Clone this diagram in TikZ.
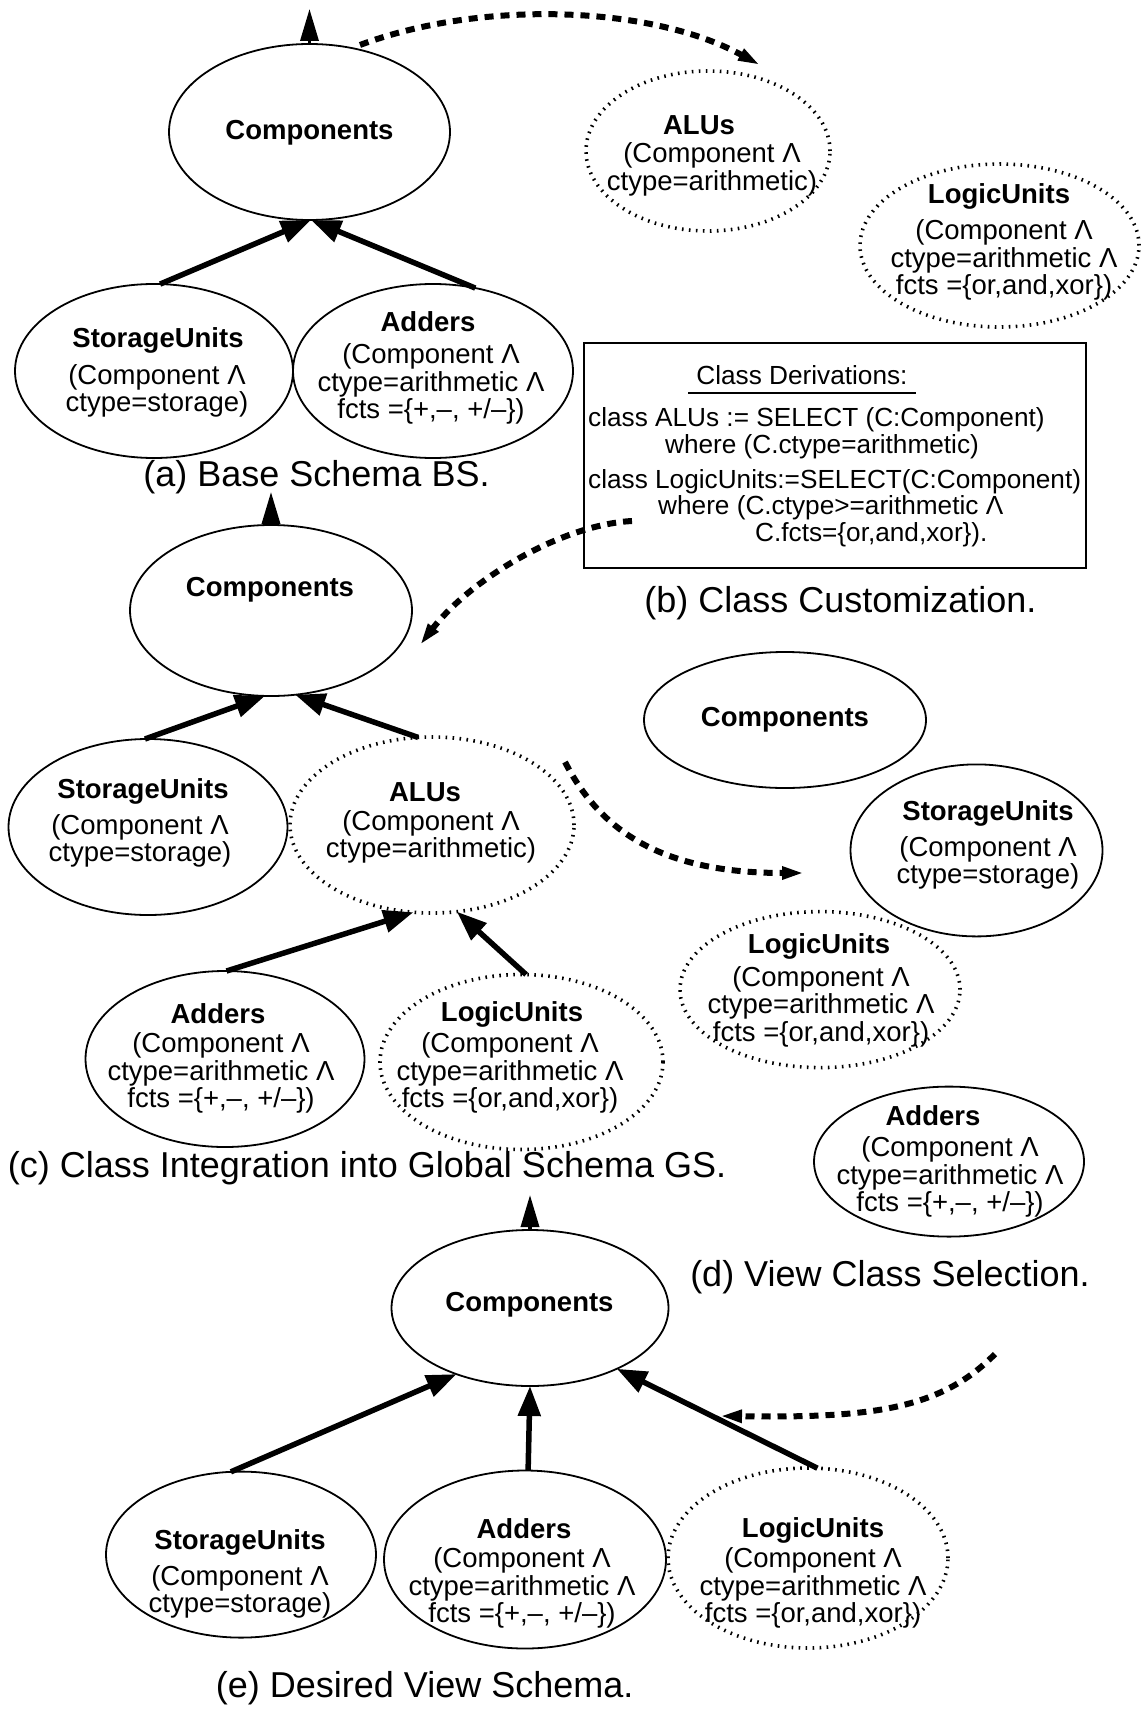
\documentclass[tikz,border=0pt]{standalone}
\usepackage{fontspec}
\setmainfont{Liberation Sans}
\usetikzlibrary{arrows.meta,shapes.geometric}

\newcommand{\lnd}{Λ}

\begin{document}
\begin{tikzpicture}[x=1pt,y=-1pt,
  ell/.style={draw, ellipse, line width=1.8pt, inner sep=0pt, outer sep=0pt},
  dotell/.style={ell, line width=3.6pt, dash pattern=on 1.6pt off 5.4pt},
  ttl/.style={font=\bfseries\fontsize{27.5}{30}\selectfont, inner sep=0pt},
  body/.style={font=\fontsize{27.5}{27.5}\selectfont, align=center, inner sep=0pt},
  captxt/.style={font=\fontsize{36}{40}\selectfont, inner sep=0pt},
  drv/.style={font=\fontsize{26.2}{30}\selectfont, inner sep=0pt},
  isa/.style={line width=5.5pt, -{Triangle[length=30pt,width=22pt]}},
  upward/.style={line width=3.5pt, -{Triangle[length=32pt,width=18pt]}},
  flow/.style={line width=6pt, dash pattern=on 9pt off 7pt, -{Triangle[length=22pt,width=12pt]}},
]
\useasboundingbox (0,0) rectangle (1143,1712);

% ---------- (a) base schema ----------
\node[ell, minimum width=281pt, minimum height=176pt] (ca) at (309.5,132) {};
\node[ttl] (ca-t) at (309.5,133) {Components};
\coordinate (ca-up) at (309.5,9);
\draw[upward] (ca.north) -- (ca-up);

\node[ell, minimum width=278pt, minimum height=174pt] (sua) at (154,371) {};
\node[ttl] (sua-t) at (158,340.5) {StorageUnits};
\node[body] (sua-b) at (157,391) {(Component \lnd\\ctype=storage)};

\node[ell, minimum width=280pt, minimum height=174pt] (adda) at (433,371) {};
\node[ttl] (adda-t) at (428,322) {Adders};
\node[body] (adda-b) at (431,384) {(Component \lnd\\ctype=arithmetic \lnd\\ fcts =\{+,–, +/–\})};

\draw[isa] (sua.86) -- (ca.271);
\draw[isa] (adda.63) -- (ca.271);

\node[captxt] (cap-a) at (316.5,477) {(a) Base Schema BS.};

% ---------- (b) class customization ----------
\node[dotell, minimum width=244pt, minimum height=160pt] (alua) at (708,151) {};
\node[ttl] (alua-t) at (699,125.5) {ALUs};
\node[body] (alua-b) at (712,169.5) {(Component \lnd\\ctype=arithmetic)};

\node[dotell, minimum width=279pt, minimum height=163pt] (lua) at (999.5,245.5) {};
\node[ttl] (lua-t) at (999,196.5) {LogicUnits};
\node[body] (lua-b) at (1004,260) {(Component \lnd\\ctype=arithmetic \lnd\\ fcts =\{or,and,xor\})};

\coordinate (fa0) at (360,45);
\coordinate (fa1) at (760,65);
\draw[flow] (fa0) .. controls (480,0) and (650,5) .. (fa1);

\node[draw, line width=1.8pt, minimum width=502pt, minimum height=225pt, inner sep=0pt] (box) at (835,455.5) {};
\node[drv, inner xsep=8pt, inner ysep=8pt] (hd) at (802,375) {Class Derivations:};
\draw[line width=1.5pt] (hd.south west) -- (hd.south east);
\node[drv, anchor=west] (d1) at (588,420) {class ALUs := SELECT (C:Component)};
\node[drv] (d2) at (822,447) {where (C.ctype=arithmetic)};
\node[drv, anchor=west] (d3) at (588,482) {class LogicUnits:=SELECT(C:Component)};
\node[drv, anchor=west] (d4) at (658,508) {where (C.ctype>=arithmetic \lnd};
\node[drv, anchor=west] (d5) at (755,535) {C.fcts=\{or,and,xor\}).};

\node[captxt] (cap-b) at (840.5,603.5) {(b) Class Customization.};

\coordinate (fb0) at (632,521);
\coordinate (fb1) at (420,645);
\draw[flow] (fb0) .. controls (560,525) and (470,580) .. (fb1);

% ---------- (c) class integration ----------
\node[ell, minimum width=282pt, minimum height=171pt] (cc) at (271,610.5) {};
\node[ttl] (cc-t) at (270,590) {Components};
\coordinate (cc-up) at (271,492);
\draw[upward] (cc.north) -- (cc-up);

\node[ell, minimum width=279pt, minimum height=176pt] (suc) at (148,827) {};
\node[ttl] (suc-t) at (143,791) {StorageUnits};
\node[body] (suc-b) at (140,841) {(Component \lnd\\ctype=storage)};

\node[dotell, minimum width=284pt, minimum height=176pt] (aluc) at (432,825) {};
\node[ttl] (aluc-t) at (425,792) {ALUs};
\node[body] (aluc-b) at (431,837) {(Component \lnd\\ctype=arithmetic)};

\node[ell, minimum width=279pt, minimum height=176pt] (addc) at (225,1059) {};
\node[ttl] (addc-t) at (218,1014) {Adders};
\node[body] (addc-b) at (221,1073) {(Component \lnd\\ctype=arithmetic \lnd\\ fcts =\{+,–, +/–\})};

\node[dotell, minimum width=283pt, minimum height=175pt] (luc) at (521.5,1062) {};
\node[ttl] (luc-t) at (512,1014) {LogicUnits};
\node[body] (luc-b) at (510,1073) {(Component \lnd\\ctype=arithmetic \lnd\\ fcts =\{or,and,xor\})};

\draw[isa] (suc.92) -- (cc.266);
\draw[isa] (aluc.99) -- (cc.286);
\draw[isa] (addc.89) -- (aluc.258);
\draw[isa] (luc.87) -- (aluc.286);

\node[captxt] (cap-c) at (367,1168) {(c) Class Integration into Global Schema GS.};

\coordinate (fc0) at (565,762);
\coordinate (fc1) at (804,873);
\draw[flow] (fc0) .. controls (600,830) and (660,873) .. (fc1);

% ---------- (d) view class selection ----------
\node[ell, minimum width=282pt, minimum height=136pt] (cd) at (785,720) {};
\node[ttl] (cd-t) at (785,720) {Components};

\node[ell, minimum width=252pt, minimum height=172pt] (sud) at (976.5,850.4) {};
\node[ttl] (sud-t) at (988,813) {StorageUnits};
\node[body] (sud-b) at (988,863) {(Component \lnd\\ctype=storage)};

\node[dotell, minimum width=280pt, minimum height=156pt] (lud) at (820,989.6) {};
\node[ttl] (lud-t) at (819,946.5) {LogicUnits};
\node[body] (lud-b) at (821,1006.5) {(Component \lnd\\ctype=arithmetic \lnd\\ fcts =\{or,and,xor\})};

\node[ell, minimum width=270pt, minimum height=150pt] (addd) at (949,1161.6) {};
\node[ttl] (addd-t) at (933,1116) {Adders};
\node[body] (addd-b) at (950,1177) {(Component \lnd\\ctype=arithmetic \lnd\\ fcts =\{+,–, +/–\})};

\node[captxt] (cap-d) at (890,1277) {(d) View Class Selection.};

% ---------- (e) desired view schema ----------
\node[ell, minimum width=277pt, minimum height=156pt] (ce) at (530,1308) {};
\node[ttl] (ce-t) at (529.5,1304.5) {Components};
\coordinate (ce-up) at (530,1195);
\draw[upward] (ce.north) -- (ce-up);

\node[ell, minimum width=270pt, minimum height=166pt] (sue) at (241,1554.6) {};
\node[ttl] (sue-t) at (240,1542) {StorageUnits};
\node[body] (sue-b) at (240,1592) {(Component \lnd\\ctype=storage)};

\node[ell, minimum width=282pt, minimum height=178pt] (adde) at (525,1559.5) {};
\node[ttl] (adde-t) at (524,1528.4) {Adders};
\node[body] (adde-b) at (522,1588) {(Component \lnd\\ctype=arithmetic \lnd\\ fcts =\{+,–, +/–\})};

\node[dotell, minimum width=280pt, minimum height=180pt] (lue) at (808,1558) {};
\node[ttl] (lue-t) at (813,1530.6) {LogicUnits};
\node[body] (lue-b) at (813,1588) {(Component \lnd\\ctype=arithmetic \lnd\\ fcts =\{or,and,xor\})};

\draw[isa] (sue.97) -- (ce.222);
\draw[isa] (adde.88) -- (ce.south);
\draw[isa] (lue.84) -- (ce.325);

\coordinate (fe0) at (995,1354);
\coordinate (fe1) at (720,1416);
\draw[flow] (fe0) .. controls (940,1410) and (870,1418) .. (fe1);

\node[captxt] (cap-e) at (424.7,1688) {(e) Desired View Schema.};
\end{tikzpicture}
\end{document}
